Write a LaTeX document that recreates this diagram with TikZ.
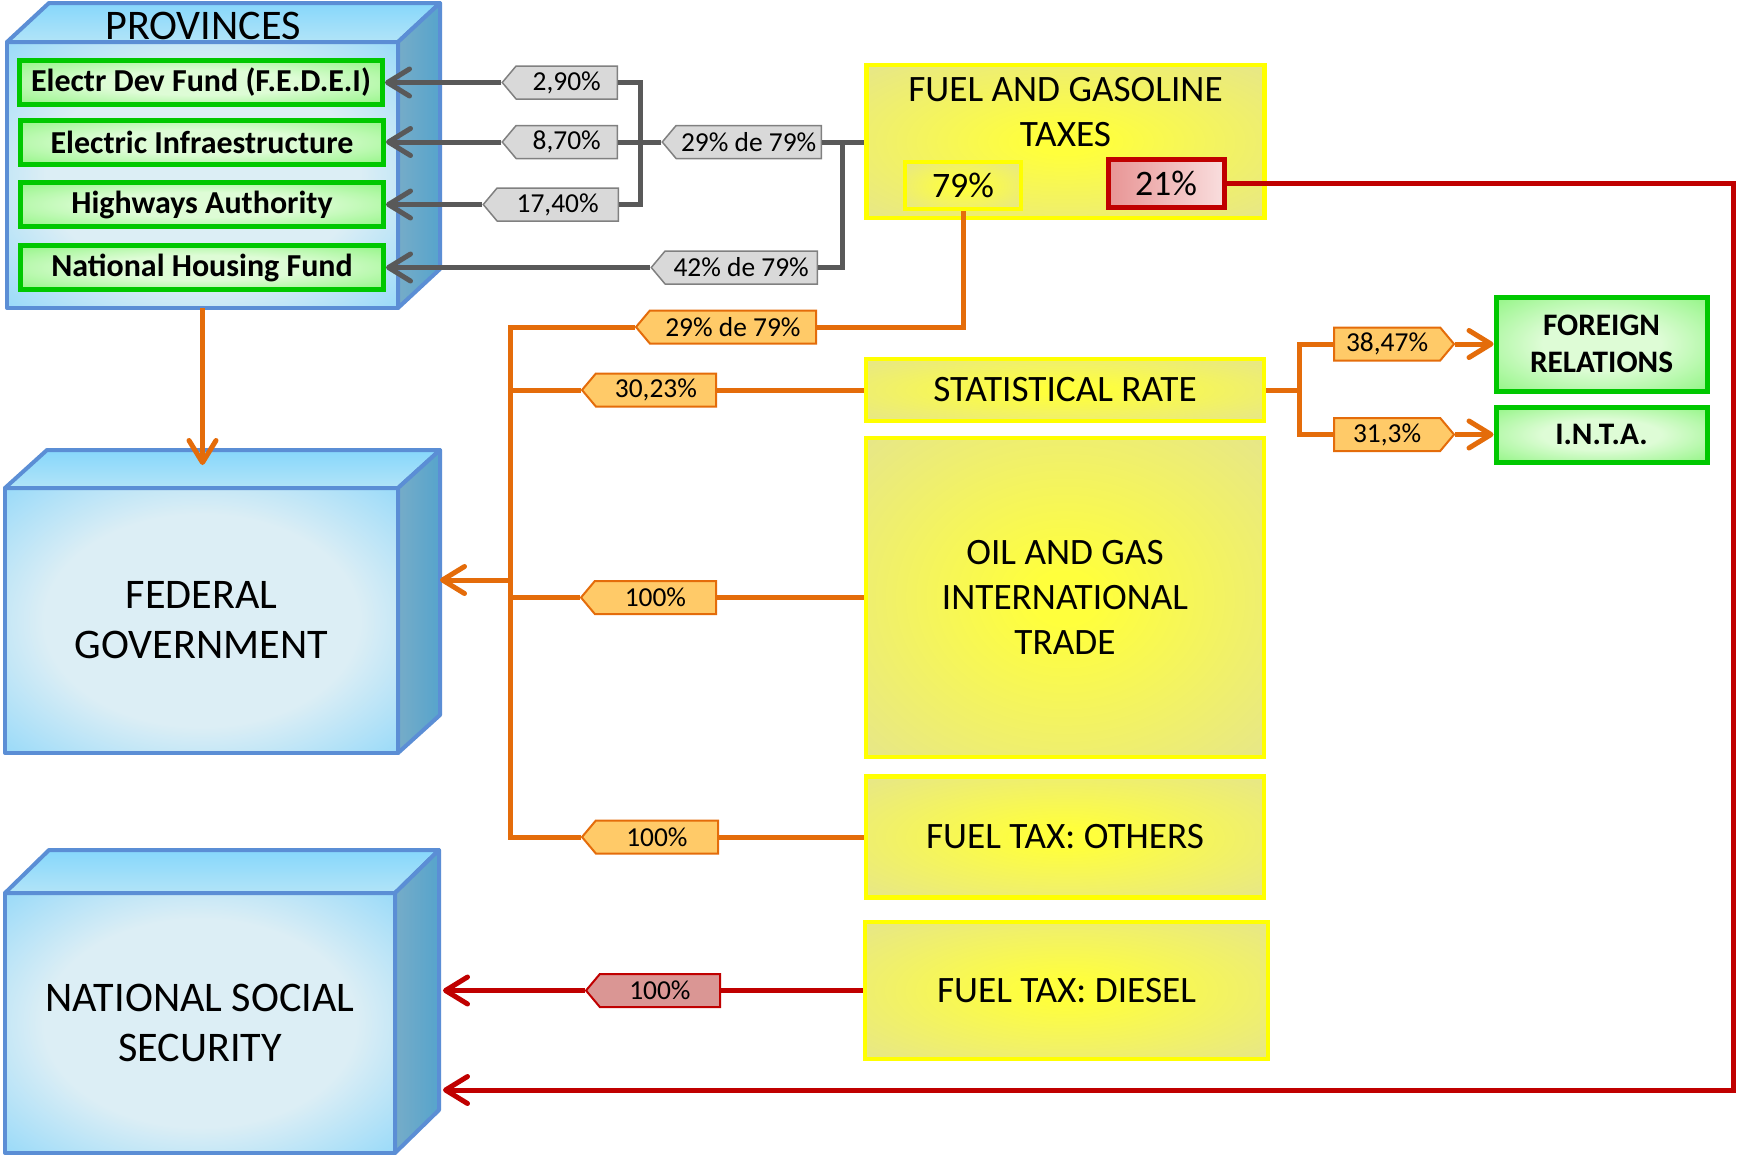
\documentclass[tikz,border=0pt]{standalone}
\usepackage{fontspec}
\setmainfont{Carlito}
\usetikzlibrary{arrows.meta,shapes.symbols,shadings}
\definecolor{bborder}{RGB}{91,142,213}
\definecolor{bpale}{RGB}{220,238,245}
\definecolor{bblue}{RGB}{116,207,251}
\definecolor{btop1}{RGB}{134,215,251}
\definecolor{btop2}{RGB}{178,228,248}
\definecolor{bside1}{RGB}{118,172,200}
\definecolor{bside2}{RGB}{86,164,204}
\definecolor{gborder}{RGB}{0,200,0}
\definecolor{gpale}{RGB}{222,252,214}
\definecolor{ggreen}{RGB}{110,242,94}
\definecolor{yborder}{RGB}{255,255,0}
\definecolor{ycenter}{RGB}{255,255,60}
\definecolor{ykhaki}{RGB}{230,230,138}
\definecolor{greyline}{RGB}{89,89,89}
\definecolor{greyfill}{RGB}{217,217,217}
\definecolor{greydraw}{RGB}{128,128,128}
\definecolor{oline}{RGB}{228,108,10}
\definecolor{ofill}{RGB}{255,202,104}
\definecolor{rline}{RGB}{192,0,0}
\definecolor{rfill}{RGB}{218,150,148}
\definecolor{rpale1}{RGB}{232,148,148}
\definecolor{rpale2}{RGB}{249,222,222}
\pgfdeclareradialshading{blueface}{\pgfpoint{0bp}{0bp}}{color(0bp)=(bpale);color(20bp)=(bpale);color(44bp)=(bblue);color(72bp)=(bblue)}
\pgfdeclareradialshading{yellowface}{\pgfpoint{0bp}{0bp}}{color(0bp)=(ycenter);color(4bp)=(ycenter);color(36bp)=(ykhaki);color(72bp)=(ykhaki)}
\pgfdeclareradialshading{greenface}{\pgfpoint{0bp}{0bp}}{color(0bp)=(gpale);color(14bp)=(gpale);color(46bp)=(ggreen);color(72bp)=(ggreen)}
\tikzset{
  face/.style={draw=bborder, line width=0.4mm, line join=round},
  front/.style={face, shade, shading=blueface, outer sep=0pt, inner sep=0pt, align=center,
    font=\fontsize{12}{14.2}\selectfont},
  topface/.style={face, top color=btop1, bottom color=btop2},
  sideface/.style={face, left color=bside1, right color=bside2},
  gbox/.style={draw=gborder, line width=0.5mm, shade, shading=greenface, inner sep=0pt,
    font=\bfseries\fontsize{9.1}{11}\selectfont, align=center},
  pbox/.style={gbox, minimum width=36.3mm, minimum height=4.4mm},
  ybox/.style={draw=yborder, line width=0.45mm, shade, shading=yellowface, inner sep=0pt,
    align=center, font=\fontsize{10.6}{12.8}\selectfont, minimum width=39.8mm},
  tagbase/.style={signal, signal from=nowhere, signal pointer angle=100, line width=0.15mm,
    minimum height=3.3mm, inner xsep=1pt, inner ysep=0pt, font=\fontsize{7.8}{9.5}\selectfont},
  gtag/.style={tagbase, signal to=west, fill=greyfill, draw=greydraw, anchor=east},
  otag/.style={tagbase, signal to=west, fill=ofill, draw=oline, line width=0.2mm, anchor=east},
  otagr/.style={tagbase, signal to=east, fill=ofill, draw=oline, line width=0.2mm, anchor=west},
  rtag/.style={tagbase, signal to=west, fill=rfill, draw=rline, line width=0.2mm, anchor=east},
  gl/.style={draw=greyline, line width=0.5mm},
  ol/.style={draw=oline, line width=0.5mm},
  rl/.style={draw=rline, line width=0.5mm},
  arr/.style={-{Straight Barb[length=2.2mm,width=2.7mm,round]}},
}
\begin{document}
\begin{tikzpicture}[x=0.1mm, y=-0.1mm]
\fill[white] (0,0) rectangle (1737,1156);
\useasboundingbox (0,0) rectangle (1737,1156);

% ---------- PROVINCES cuboid ----------
\node[front, minimum width=39.1mm, minimum height=26.6mm] (prov) at (202.5,175) {};
\draw[topface] (prov.north west) -- ([shift={(42,-39)}]prov.north west) -- ([shift={(42,-39)}]prov.north east) -- (prov.north east) -- cycle;
\draw[sideface] (prov.north east) -- ([shift={(42,-39)}]prov.north east) -- ([shift={(42,-39)}]prov.south east) -- (prov.south east) -- cycle;
\node[font=\fontsize{12}{14}\selectfont] (provt) at (203,25.5) {PROVINCES};
\node[pbox] (fedei) at (201,82.5) {Electr Dev Fund (F.E.D.E.I)};
\node[pbox] (infra) at (202,142) {Electric Infraestructure};
\node[pbox] (hwy) at (202,204.5) {Highways Authority};
\node[pbox] (nhf) at (202,267.5) {National Housing Fund};

% ---------- FEDERAL GOVERNMENT cuboid ----------
\node[front, minimum width=39.3mm, minimum height=26.5mm] (fed) at (201.5,620.5) {FEDERAL\\GOVERNMENT};
\draw[topface] (fed.north west) -- ([shift={(42,-38)}]fed.north west) -- ([shift={(42,-38)}]fed.north east) -- (fed.north east) -- cycle;
\draw[sideface] (fed.north east) -- ([shift={(42,-38)}]fed.north east) -- ([shift={(42,-38)}]fed.south east) -- (fed.south east) -- cycle;

% ---------- NATIONAL SOCIAL SECURITY cuboid ----------
\node[front, minimum width=39.0mm, minimum height=26.0mm] (nss) at (200,1023) {NATIONAL SOCIAL\\SECURITY};
\draw[topface] (nss.north west) -- ([shift={(44,-43)}]nss.north west) -- ([shift={(44,-43)}]nss.north east) -- (nss.north east) -- cycle;
\draw[sideface] (nss.north east) -- ([shift={(44,-43)}]nss.north east) -- ([shift={(44,-43)}]nss.south east) -- (nss.south east) -- cycle;

% ---------- yellow boxes ----------
\node[ybox, minimum height=15.3mm] (fuel) at (1065.5,141.5) {};
\node[font=\fontsize{10.6}{12.8}\selectfont, align=center] (fuelt) at (1065.5,112.5) {FUEL AND GASOLINE\\TAXES};
\node[ybox, minimum width=11.6mm, minimum height=4.7mm, font=\fontsize{10.2}{12}\selectfont] (p79) at (963,185.5) {79\%};
\node[draw=rline, line width=0.5mm, left color=rpale1, right color=rpale2, inner sep=0pt,
      minimum width=11.6mm, minimum height=4.8mm, font=\fontsize{10.2}{12}\selectfont] (p21) at (1166,183) {21\%};
\node[ybox, minimum height=6.2mm] (stat) at (1065,390) {STATISTICAL RATE};
\node[ybox, minimum height=31.9mm] (oil) at (1065,597.5) {OIL AND GAS\\INTERNATIONAL\\TRADE};
\node[ybox, minimum height=12.1mm] (others) at (1065,837) {FUEL TAX: OTHERS};
\node[ybox, minimum width=40.3mm, minimum height=13.7mm] (diesel) at (1066.5,990.5) {FUEL TAX: DIESEL};

% ---------- green boxes right ----------
\node[gbox, minimum width=21.1mm, minimum height=9.4mm, font=\bfseries\fontsize{8.9}{10.4}\selectfont] (foreign) at (1601.5,344) {FOREIGN\\RELATIONS};
\node[gbox, minimum width=21.1mm, minimum height=5.5mm, font=\bfseries\fontsize{8.9}{10.4}\selectfont] (inta) at (1601.5,434.5) {I.N.T.A.};

% ---------- tags ----------
\node[gtag, minimum width=11.5mm] (t290) at (618,82.5) {2,90\%};
\node[gtag, minimum width=11.5mm] (t870) at (618,142) {8,70\%};
\node[gtag, minimum width=13.5mm] (t1740) at (619,204.5) {17,40\%};
\node[gtag, minimum width=15.9mm] (t2979g) at (822,142) {29\% de 79\%};
\node[gtag, minimum width=16.6mm] (t4279) at (818,267.5) {42\% de 79\%};
\node[otag, minimum width=18.0mm] (t2979o) at (817,327) {29\% de 79\%};
\node[otag, minimum width=13.4mm] (t3023) at (717,390) {30,23\%};
\node[otag, minimum width=13.5mm] (t100a) at (717,597.5) {100\%};
\node[otag, minimum width=13.6mm] (t100b) at (719,837) {100\%};
\node[otagr, minimum width=12.0mm] (t3847) at (1333,344) {38,47\%};
\node[otagr, minimum width=12.0mm] (t313) at (1333,434.5) {31,3\%};
\node[rtag, minimum width=13.4mm] (t100r) at (721,990.5) {100\%};

% ---------- helper coordinates ----------
\coordinate (bx) at (640,0);
\coordinate (bx2) at (842,0);
\coordinate (ox) at (510,0);
\coordinate (sx) at (1299,0);
\coordinate (rx) at (1733,0);
\coordinate (fedin) at (440,580);
\coordinate (fedtop) at (202.5,465);
\coordinate (nssin1) at (443,990.5);
\coordinate (nssin2) at (443,1090);

% ---------- grey connectors ----------
\draw[gl,arr] (t290.west) -- (fedei.east);
\draw[gl,arr] (t870.west) -- (infra.east);
\draw[gl,arr] (t1740.west) -- (hwy.east);
\draw[gl,arr] (t4279.west) -- (nhf.east);
\draw[gl] (t290.east) -- (t290.east -| bx) -- (bx |- t1740.east) -- (t1740.east);
\draw[gl] (t2979g.west) -- (t870.east);
\draw[gl] (t2979g.east) -- (t2979g.east -| fuel.west);
\draw[gl] (t4279.east) -- (t4279.east -| bx2) -- (bx2 |- t2979g.east);

% ---------- orange connectors ----------
\draw[ol] (p79.south) -- (p79.south |- t2979o.east) -- (t2979o.east);
\draw[ol] (t2979o.west) -- (t2979o.west -| ox) -- (ox |- t100b.west) -- (t100b.west);
\draw[ol] (stat.west) -- (t3023.east);
\draw[ol] (t3023.west) -- (t3023.west -| ox);
\draw[ol] (oil.west) -- (t100a.east);
\draw[ol] (t100a.west) -- (t100a.west -| ox);
\draw[ol] (others.west) -- (t100b.east);
\draw[ol,arr] (ox |- fedin) -- (fedin);
\draw[ol,arr] (prov.south) -- (fedtop);
\draw[ol] (stat.east) -- (stat.east -| sx);
\draw[ol] (t3847.west) -- (t3847.west -| sx) -- (sx |- t313.west) -- (t313.west);
\draw[ol,arr] (t3847.east) -- (foreign.west);
\draw[ol,arr] (t313.east) -- (inta.west);

% ---------- red connectors ----------
\draw[rl,arr] (p21.east) -- (p21.east -| rx) -- (rx |- nssin2) -- (nssin2);
\draw[rl] (diesel.west) -- (t100r.east);
\draw[rl,arr] (t100r.west) -- (nssin1);
\end{tikzpicture}
\end{document}
